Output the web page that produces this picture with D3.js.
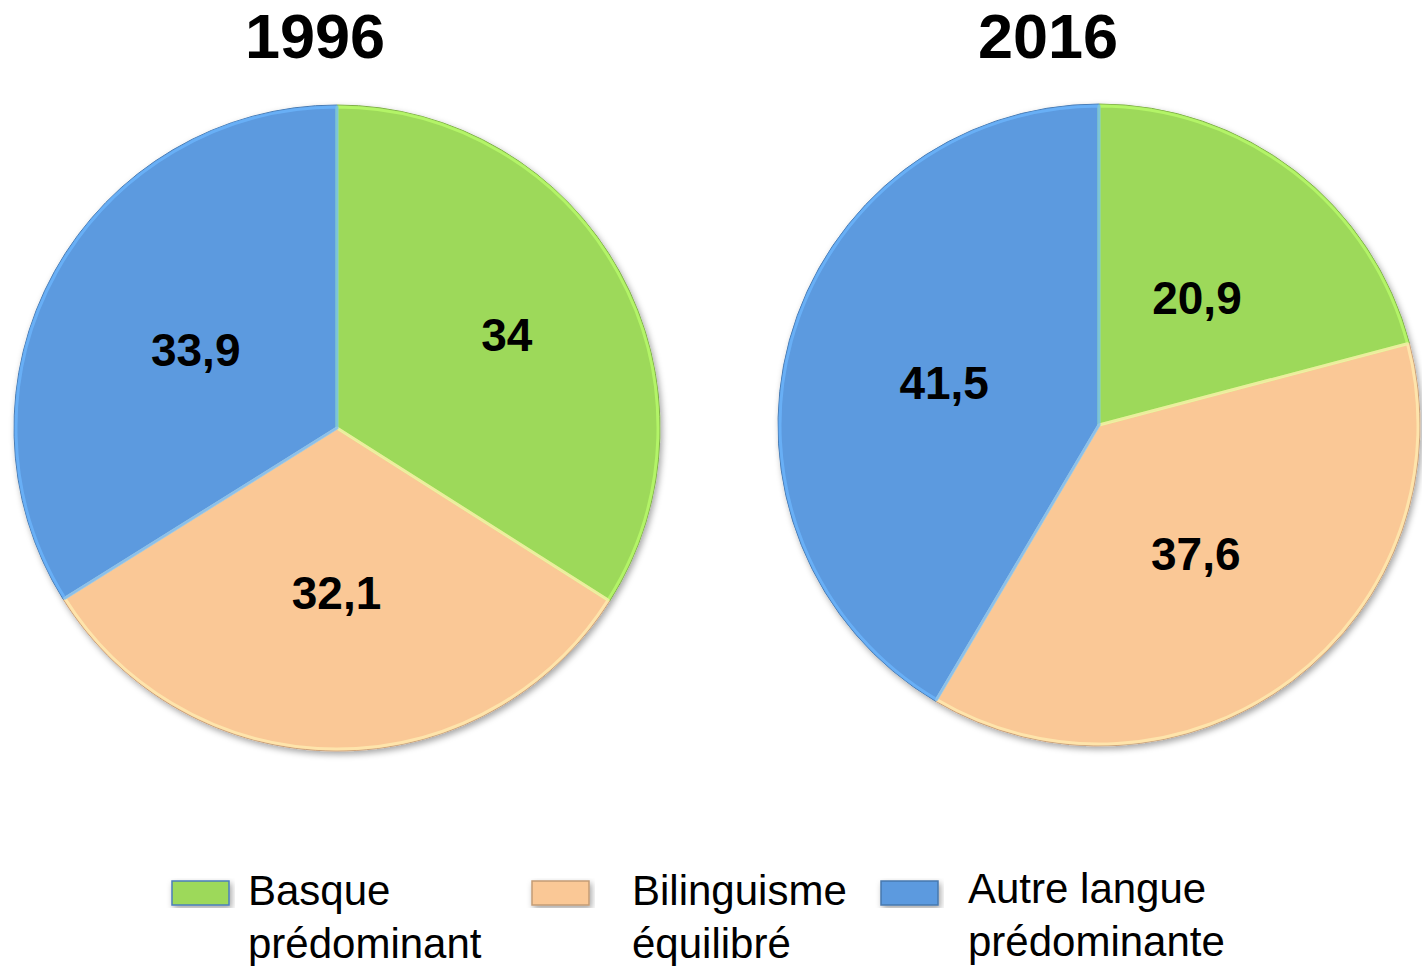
<!DOCTYPE html>
<html lang="fr">
<head>
<meta charset="UTF-8">
<title>Basque 1996 / 2016</title>
<script src="https://cdn.jsdelivr.net/npm/d3@7"></script>
<style>
  html, body { margin: 0; padding: 0; background: #fff; }
  svg { display: block; }
</style>
</head>
<body>
<div id="chart"></div>
<script>
// categories + values
const categories = ["Basque prédominant", "Bilinguisme équilibré", "Autre langue prédominante"];
const legendLines = [["Basque", "prédominant"], ["Bilinguisme", "équilibré"], ["Autre langue", "prédominante"]];
const years = ["1996", "2016"];
const values1996 = [34, 32.1, 33.9];
const values2016 = [20.9, 37.6, 41.5];
const colors = ["#9dd95a", "#fac896", "#5b9adf"];
// how far out each label sits (fraction of radius)
const labelRadius1996 = [0.6, 0.51, 0.5];
const labelRadius2016 = [0.5, 0.5, 0.5];

const width = 1422, height = 966;

const svg = d3.select("#chart").append("svg")
    .attr("width", width)
    .attr("height", height)
    .attr("viewBox", [0, 0, width, height]);

const defs = svg.append("defs");
const shadow = defs.append("filter").attr("id", "shadow")
    .attr("x", "-10%").attr("y", "-10%").attr("width", "120%").attr("height", "120%");
shadow.append("feDropShadow")
    .attr("dx", 2).attr("dy", 3).attr("stdDeviation", 3)
    .attr("flood-color", "#000").attr("flood-opacity", 0.35);

const fmt = v => String(v).replace(".", ",");

const pies = [
  { year: years[0], values: values1996, lr: labelRadius1996, cx: 337, cy: 428, r: 323, tx: 315 },
  { year: years[1], values: values2016, lr: labelRadius2016, cx: 1099, cy: 425, r: 321, tx: 1048 }
];

const pie = d3.pie().sort(null).value(d => d);

pies.forEach(p => {
  const g = svg.append("g").attr("transform", `translate(${p.cx},${p.cy})`);
  const arc = d3.arc().innerRadius(0).outerRadius(p.r);
  const arcs = pie(p.values);

  const slices = g.append("g").attr("filter", "url(#shadow)");
  slices.selectAll("path")
    .data(arcs)
    .join("path")
      .attr("d", arc)
      .attr("fill", (d, i) => colors[i])
      .attr("stroke", (d, i) => d3.color(colors[i]).darker(0.6))
      .attr("stroke-width", 1);

  // light bevel along slice edges
  const inner = d3.arc().innerRadius(0).outerRadius(p.r - 2);
  g.append("g").selectAll("path")
    .data(arcs)
    .join("path")
      .attr("d", inner)
      .attr("fill", "none")
      .attr("stroke", (d, i) => d3.color(colors[i]).brighter(0.5))
      .attr("stroke-opacity", 0.7)
      .attr("stroke-width", 3)
      .attr("stroke-linejoin", "round");

  g.append("g").selectAll("text")
    .data(arcs)
    .join("text")
      .attr("transform", (d, i) => {
        const a = d3.arc().innerRadius(p.r * p.lr[i]).outerRadius(p.r * p.lr[i]);
        return `translate(${a.centroid(d)})`;
      })
      .attr("text-anchor", "middle")
      .attr("dy", "0.36em")
      .attr("font-family", "Liberation Sans, Arial, sans-serif")
      .attr("font-weight", "bold")
      .attr("font-size", 46)
      .attr("fill", "#000")
      .text(d => fmt(d.data));

  svg.append("text")
    .attr("x", p.tx)
    .attr("y", 58)
    .attr("text-anchor", "middle")
    .attr("font-family", "Liberation Sans, Arial, sans-serif")
    .attr("font-weight", "bold")
    .attr("font-size", 63)
    .text(p.year);
});

// legend
const legendX = [172, 532, 881];
const textX = [248, 632, 968];
const legend = svg.append("g");
categories.forEach((c, i) => {
  legend.append("rect")
    .attr("x", legendX[i]).attr("y", 881)
    .attr("width", 57).attr("height", 24)
    .attr("fill", colors[i])
    .attr("stroke", i === 0 ? "#4a7ebb" : d3.color(colors[i]).darker(0.7))
    .attr("stroke-width", 1.5)
    .attr("filter", "url(#shadow)");
  const t = legend.append("text")
    .attr("font-family", "Liberation Sans, Arial, sans-serif")
    .attr("font-size", 42)
    .attr("fill", "#000");
  legendLines[i].forEach((line, j) => {
    t.append("tspan")
      .attr("x", textX[i])
      .attr("y", (i === 2 ? 903 : 905) + j * 53)
      .text(line);
  });
});
</script>
</body>
</html>
